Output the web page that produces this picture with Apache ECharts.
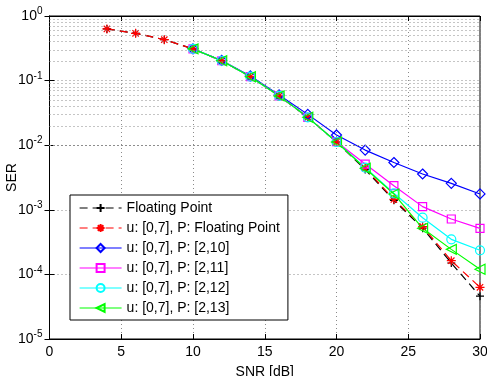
<!DOCTYPE html>
<html><head><meta charset="utf-8">
<script src="https://cdn.jsdelivr.net/npm/echarts@6/dist/echarts.min.js"></script>
<style>html,body{margin:0;padding:0;background:#fff}#c{width:487px;height:376px}</style>
</head><body><div id="c"></div>
<script>
var snrFull = [4,6,8,10,12,14,16,18,20,22,24,26,28,30];
var snrQ = [10,12,14,16,18,20,22,24,26,28,30];
var serFloat = [0.63,0.54,0.43,0.31,0.203,0.115,0.058,0.027,0.0112,0.0042,0.0014,0.00052,0.00015,0.000046];
var serU7Float = [0.63,0.54,0.43,0.31,0.203,0.115,0.058,0.027,0.0112,0.0044,0.00145,0.00055,0.000163,0.000063];
var serP210 = [0.31,0.205,0.118,0.06,0.03,0.0144,0.0084,0.0054,0.00358,0.00257,0.00176];
var serP211 = [0.31,0.203,0.115,0.058,0.027,0.0113,0.0051,0.00236,0.00112,0.00072,0.000517];
var serP212 = [0.31,0.203,0.115,0.058,0.027,0.0112,0.0045,0.0018,0.000755,0.000349,0.000236];
var serP213 = [0.31,0.203,0.115,0.058,0.027,0.0112,0.0044,0.00176,0.000517,0.000244,0.00012];
var seriesNames = ['Floating Point','u: [0,7], P: Floating Point','u: [0,7], P: [2,10]','u: [0,7], P: [2,11]','u: [0,7], P: [2,12]','u: [0,7], P: [2,13]'];
var xTicks = [0,5,10,15,20,25,30];
var minorGrid = [];
[1e-5,1e-4,1e-3,1e-2,1e-1].forEach(function(d){for(var k=2;k<=9;k++)minorGrid.push(+(d*k).toPrecision(3));});

function pairs(xs, ys){return xs.map(function(x,i){return [x, ys[i]];});}
var FONT = 'Liberation Sans';
var gridColor = '#8a8a8a';
var chart = echarts.init(document.getElementById('c'));
var asterisk = 'path://M0,-10L0,10M-10,0L10,0M-7.07,-7.07L7.07,7.07M-7.07,7.07L7.07,-7.07';
var plus = 'path://M0,-10L0,10M-10,0L10,0';
function ser(name, xs, ys, color, symbol, size, dashed, rot){
  return {
    name: name, type: 'line', data: pairs(xs, ys), symbol: symbol, symbolSize: size,
    symbolRotate: rot || 0, showAllSymbol: true,
    lineStyle: {color: color, width: 1.2, type: dashed ? [8,5] : 'solid'},
    itemStyle: {color: 'rgba(255,255,255,0)', borderColor: color, borderWidth: 1.2},
    emphasis: {disabled: true}, animation: false
  };
}
var option = {
  animation: false,
  grid: {left: 49.5, right: 7, top: 16, bottom: 37, show: true, borderColor: '#000', borderWidth: 1,
         containLabel: false, outerBoundsMode: 'none'},
  xAxis: [{
    type: 'value', min: 0, max: 30, interval: 5,
    name: 'SNR [dB]', nameLocation: 'middle', nameGap: 26, nameMoveOverlap: false,
    nameTextStyle: {fontFamily: FONT, fontSize: 14, color: '#000'},
    axisLine: {show: true, lineStyle: {color: '#000'}},
    axisTick: {inside: true, length: 5, lineStyle: {color: '#000'}},
    axisLabel: {fontFamily: FONT, fontSize: 14, color: '#000', margin: 6},
    splitLine: {show: true, lineStyle: {color: gridColor, type: [1,3], width: 1}}
  },{
    type: 'value', position: 'top', min: 0, max: 30, interval: 5,
    axisLine: {show: true, lineStyle: {color: '#000'}},
    axisTick: {inside: true, length: 5, lineStyle: {color: '#000'}},
    axisLabel: {show: false}, splitLine: {show: false}
  }],
  yAxis: [{
    type: 'log', logBase: 10, min: 1e-5, max: 1,
    name: 'SER', nameLocation: 'middle', nameGap: 30, nameMoveOverlap: false,
    nameTextStyle: {fontFamily: FONT, fontSize: 14, color: '#000'},
    axisLine: {show: true, lineStyle: {color: '#000'}},
    axisTick: {inside: true, length: 5, lineStyle: {color: '#000'}},
    axisLabel: {
      margin: 7,
      formatter: function(v){ return '{b|10}{s|' + Math.round(Math.log10(v)) + '}'; },
      rich: {
        b: {fontFamily: FONT, fontSize: 14, color: '#000'},
        s: {fontFamily: FONT, fontSize: 10, color: '#000', padding: [0,0,9,0]}
      }
    },
    splitLine: {show: true, lineStyle: {color: gridColor, type: [1,3], width: 1}}
  },{
    type: 'log', logBase: 10, min: 1e-5, max: 1, position: 'right',
    axisLine: {show: true, lineStyle: {color: '#000'}},
    axisTick: {inside: true, length: 5, lineStyle: {color: '#000'}},
    axisLabel: {show: false}, splitLine: {show: false}
  }],
  legend: {
    orient: 'vertical', left: 70, top: 195,
    data: seriesNames,
    backgroundColor: '#fff', borderColor: '#000', borderWidth: 1,
    padding: [6, 8, 5, 9], itemWidth: 42, itemHeight: 10, itemGap: 6,
    lineStyle: {width: 1.2},
    textStyle: {fontFamily: FONT, fontSize: 14, lineHeight: 14, color: '#000'}
  },
  series: [
    {type: 'line', data: [], silent: true, z: 0,
     markLine: {silent: true, symbol: 'none', label: {show: false}, animation: false,
       lineStyle: {color: gridColor, type: [1,3], width: 1},
       data: minorGrid.map(function(v){return {yAxis: v};})}},
    ser(seriesNames[0], snrFull, serFloat, '#000000', plus, 8, true),
    ser(seriesNames[1], snrFull, serU7Float, '#ff0000', asterisk, 9, true),
    ser(seriesNames[2], snrQ, serP210, '#0000ff', 'diamond', 10, false),
    ser(seriesNames[3], snrQ, serP211, '#ff00ff', 'rect', 8, false),
    ser(seriesNames[4], snrQ, serP212, '#00ffff', 'circle', 9, false),
    ser(seriesNames[5], snrQ, serP213, '#00ff00', 'triangle', 10, false, 90)
  ]
};
chart.setOption(option);
</script></body></html>
